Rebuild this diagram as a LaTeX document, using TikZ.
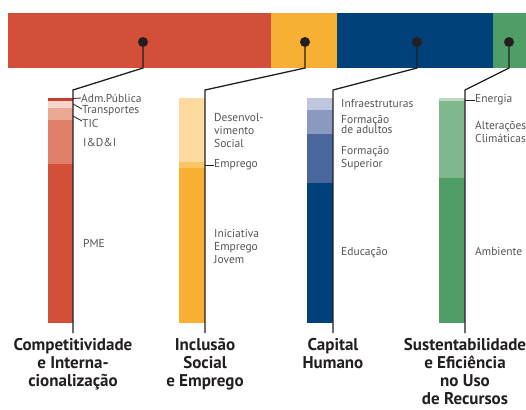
\documentclass[tikz,border=0pt]{standalone}
\usepackage{fontspec}
\setmainfont{PT Sans}
\usepackage{tikz}
\usetikzlibrary{positioning}

\definecolor{cRed}{RGB}{211,79,58}
\definecolor{cRedA}{RGB}{200,62,45}
\definecolor{cRedB}{RGB}{246,214,203}
\definecolor{cRedC}{RGB}{235,168,146}
\definecolor{cRedD}{RGB}{224,128,104}
\definecolor{cYel}{RGB}{247,176,51}
\definecolor{cYelA}{RGB}{253,219,160}
\definecolor{cYelB}{RGB}{251,196,100}
\definecolor{cBlu}{RGB}{0,65,121}
\definecolor{cBluA}{RGB}{192,198,222}
\definecolor{cBluB}{RGB}{138,153,192}
\definecolor{cBluC}{RGB}{74,103,157}
\definecolor{cGrn}{RGB}{79,158,104}
\definecolor{cGrnA}{RGB}{186,217,190}
\definecolor{cGrnB}{RGB}{128,185,141}
\definecolor{cLine}{RGB}{35,31,32}
\definecolor{cText}{RGB}{85,85,85}

\begin{document}
\begin{tikzpicture}[x=1pt,y=1pt,
  dot/.style={circle,fill=cLine,inner sep=0pt,minimum size=10pt},
  lbl/.style={anchor=west,inner sep=0pt,align=left,text=cText,font=\fontsize{11.5}{13}\selectfont},
  ttl/.style={inner sep=0pt,align=center,text=cLine,font=\bfseries\fontsize{17}{18}\selectfont},
  link/.style={draw=cLine,line width=1.3pt},
  leader/.style={draw=cLine,line width=0.8pt}] %
  \clip (0,0) rectangle (526,-409) ; %
  % top bar
  \fill[cRed] (8,-13) rectangle (271,-68) ;
  \fill[cYel] (271,-13) rectangle (337,-68) ;
  \fill[cBlu] (337,-13) rectangle (493,-68) ;
  \fill[cGrn] (493,-13) rectangle (530,-68) ;
  % columns
  \fill[cRedA] (48,-98) rectangle (73,-100.5) ;
  \fill[cRedB] (48,-100.5) rectangle (73,-107.5) ;
  \fill[cRedC] (48,-107.5) rectangle (73,-120) ;
  \fill[cRedD] (48,-120) rectangle (73,-164) ;
  \fill[cRed] (48,-164) rectangle (73,-323) ;
  \fill[cYelA] (179,-98) rectangle (205,-162) ;
  \fill[cYelB] (179,-162) rectangle (205,-168) ;
  \fill[cYel] (179,-168) rectangle (205,-323) ;
  \fill[cBluA] (307,-98) rectangle (333,-110) ;
  \fill[cBluB] (307,-110) rectangle (333,-134) ;
  \fill[cBluC] (307,-134) rectangle (333,-183) ;
  \fill[cBlu] (307,-183) rectangle (333,-323) ;
  \fill[cGrnA] (439,-98) rectangle (465,-101) ;
  \fill[cGrnB] (439,-101) rectangle (465,-178) ;
  \fill[cGrn] (439,-178) rectangle (465,-323) ;

  \node[dot] (dotR) at (143,-42) {} ; %
  \node[dot] (dotY) at (305,-42) {} ; %
  \node[dot] (dotB) at (417,-42) {} ; %
  \node[dot] (dotG) at (509,-42) {} ; %
  \coordinate (kinkR) at (143,-68) ;
  \coordinate (kinkY) at (305,-68) ;
  \coordinate (kinkB) at (417,-68) ;
  \coordinate (kinkG) at (509,-68) ;
  \coordinate (topR) at (73,-90) ;
  \coordinate (topY) at (205,-90) ;
  \coordinate (topB) at (333,-90) ;
  \coordinate (topG) at (465,-90) ;
  \coordinate (footR) at (73,-333) ;
  \coordinate (footY) at (205,-333) ;
  \coordinate (footB) at (333,-333) ;
  \coordinate (footG) at (465,-333) ;
  \draw[link] (dotR)--(kinkR)--(topR)--(footR) ; %
  \draw[link] (dotY)--(kinkY)--(topY)--(footY) ;
  \draw[link] (dotB)--(kinkB)--(topB)--(footB) ;
  \draw[link] (dotG)--(kinkG)--(topG)--(footG) ;

  % red labels
  \node[lbl] (adm) at (81,-98) {Adm.Pública} ; %
  \node[lbl] (transp) at (82,-110.5) {Transportes} ;
  \node[lbl] (tic) at (82,-123) {TIC} ;
  \node[lbl] (idi) at (83,-142) {I\&D\&I} ;
  \node[lbl] (pme) at (83,-243) {PME} ;
  \coordinate (admA) at (73,-98.5) ;
  \coordinate (transpA) at (73,-104) ;
  \coordinate (ticA) at (73,-116) ;
  \draw[leader] (admA)--(adm.west) ;
  \draw[leader] (transpA)--([yshift=1.5pt]transp.west) ;
  \draw[leader] (ticA)--([yshift=2pt]tic.west) ;
  % yellow labels
  \node[lbl] (desenv) at (214,-130) {Desenvol-\\vimento\\Social} ; %
  \node[lbl] (empr) at (214,-165) {Emprego} ;
  \node[lbl] (iej) at (214,-246) {Iniciativa\\Emprego\\Jovem} ;
  \coordinate (emprA) at (205,-165) ;
  \draw[leader] (emprA)--(empr.west) ;
  % blue labels
  \node[lbl] (infra) at (341,-104) {Infraestruturas} ; %
  \node[lbl] (fadult) at (341,-124) {Formação\\[-3pt]de adultos} ;
  \node[lbl] (fsup) at (341,-158) {Formação\\Superior} ;
  \node[lbl] (educ) at (341,-253) {Educação} ;
  % green labels
  \node[lbl] (energ) at (475,-100) {Energia} ; %
  \node[lbl] (clima) at (475,-132) {Alterações\\Climáticas} ;
  \node[lbl] (amb) at (475,-251) {Ambiente} ;
  \coordinate (energA) at (465,-100) ;
  \draw[leader] (energA)--(energ.west) ;

  % titles
  \node[ttl, below=5pt of footR] (ttlR) {Competitividade\\e Interna-\\cionalização} ; %
  \node[ttl, below=5pt of footY] (ttlY) {Inclusão\\Social\\e Emprego} ;
  \node[ttl, below=5pt of footB] (ttlB) {Capital\\Humano} ;
  \node[ttl, below=5pt of footG] (ttlG) {Sustentabilidade\\e Eficiência\\no Uso\\de Recursos} ;
\end{tikzpicture}
\end{document}
